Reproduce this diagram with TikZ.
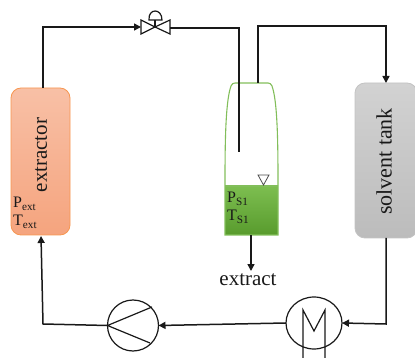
\documentclass[tikz,border=0pt]{standalone}
\usepackage{fontspec}
\setmainfont{Liberation Serif}
\usetikzlibrary{arrows.meta,calc,shapes.geometric}
\definecolor{extTop}{RGB}{248,192,166}
\definecolor{extBot}{RGB}{245,164,126}
\definecolor{extLine}{RGB}{247,150,80}
\definecolor{solTop}{RGB}{210,210,210}
\definecolor{solBot}{RGB}{188,188,188}
\definecolor{solLine}{RGB}{195,195,195}
\definecolor{sepTop}{RGB}{125,190,80}
\definecolor{sepBot}{RGB}{88,155,45}
\definecolor{sepLine}{RGB}{130,190,90}
\tikzset{
  x=1pt,y=-1pt,
  pipe/.style={draw=black!90,line width=1.5pt},
  flow/.style={pipe,-{Triangle[length=7pt,width=7pt]}},
  sym/.style={draw=black!90,line width=1.2pt},
  tank/.style={rounded corners=10pt,inner sep=0pt,outer sep=0pt,line width=0.8pt,shade},
  lab/.style={font=\fontsize{21}{21}\selectfont,text=black!90},
  biglab/.style={font=\fontsize{22}{22}\selectfont,text=black!90},
  small/.style={font=\fontsize{16}{17}\selectfont,text=black!90,align=left,inner sep=0pt,anchor=west},
  sepline/.style={draw=sepLine,line width=1.1pt},
}
\newcommand{\subt}[1]{\textsubscript{#1}}
\begin{document}
\begin{tikzpicture}
\useasboundingbox (0,0) rectangle (415,358);
\clip (0,0) rectangle (415,358);
% extractor
\node[tank,minimum width=59pt,minimum height=147pt,draw=extLine,top color=extTop,bottom color=extBot] (ext) at (40.5,161.5) {};
\node[lab,rotate=90] (extlab) at (41,155) {extractor};
\node[small] (pext) at (13,213) {P\subt{ext}\\[1pt]T\subt{ext}};
% solvent tank
\node[tank,minimum width=62pt,minimum height=155pt,draw=solLine,top color=solTop,bottom color=solBot] (sol) at (386,160.5) {};
\node[biglab,rotate=90] (sollab) at (384,161.5) {solvent tank};
% separator
\coordinate (septop) at (258,83);
\fill[shade,top color=sepTop,bottom color=sepBot] (225,186) rectangle (278,235);
\draw[sepline]
  (225,235) -- (225,180) .. controls (225,135) and (226,100) .. (231,86)
  .. controls (232,84) and (233,83) .. (235,83) -- (268,83)
  .. controls (270,83) and (271,84) .. (272,86)
  .. controls (277,100) and (278,135) .. (278,180) -- (278,235) -- cycle;
\draw[sepline] (225,186) -- (278,186);
\draw[draw=black!70,line width=0.8pt,fill=white] (258,175) -- (269,175) -- (263.5,185) -- cycle;
\node[small] (ps) at (227,208) {P\subt{S1}\\[1pt]T\subt{S1}};
\node[lab] (extract) at (248,279.5) {extract};
% valve
\coordinate (vl) at (141,27);
\coordinate (vr) at (170,28);
\draw[sym,fill=white] (141,20) -- (155,27) -- (141,34) -- cycle;
\draw[sym,fill=white] (170,20) -- (155,27) -- (170,34) -- cycle;
\draw[sym] (155,27) -- (155,20);
\draw[sym] (149,20) .. controls (148,8) and (162,8) .. (162,20) -- cycle;
% pump
\node[circle,sym,minimum size=51pt,inner sep=0pt,outer sep=0pt] (pump) at (133,325.5) {};
\draw[sym] (152,307) -- (pump.west) -- (150,343);
% heat exchanger
\node[ellipse,sym,minimum width=56pt,minimum height=52pt,inner sep=0pt,outer sep=0pt] (hx) at (314,323) {};
\draw[sym] (303,360) -- (303,310) -- (314,331) -- (325,310) -- (325,360);
% connectors
\draw[flow] (43,88) -- (43,27) -- (vl);
\draw[pipe] (vr) -- (239,28) -- (239,152);
\draw[flow] (septop) -- (258,26) -- (386,26) -- (sol.north);
\draw[flow] (386,238) -- (386,324) -- (hx.east);
\draw[flow] (hx.west) -- (pump.east);
\draw[flow] (pump.west) -- (43,324) -- (41,236);
\draw[flow] (251,235) -- (251,271);
\end{tikzpicture}
\end{document}
